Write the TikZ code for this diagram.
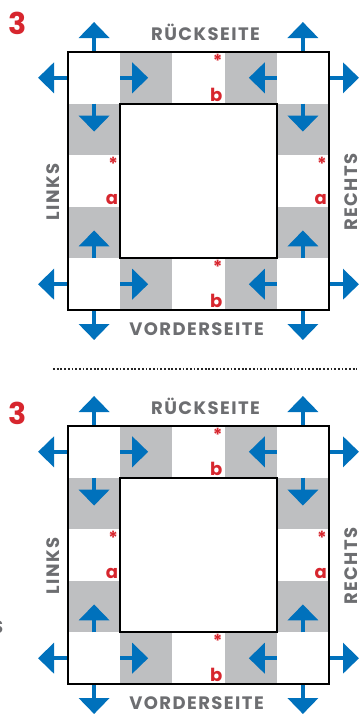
\documentclass[tikz,border=0pt]{standalone}
\usepackage{fontspec}
\setmainfont{Poppins}
\usetikzlibrary{arrows.meta, positioning}

\definecolor{pfeilblau}{HTML}{0071BC}
\definecolor{feldgrau}{HTML}{BEBFC1}
\definecolor{textgrau}{HTML}{6D6E71}
\definecolor{markrot}{HTML}{D7262E}

\begin{document}
\begin{tikzpicture}[
    x=1pt, y=-1pt,
    cell/.style={rectangle, minimum width=52.2pt, minimum height=51.6pt, inner sep=0pt, outer sep=0pt},
    frame/.style={draw=black, line width=2pt},
    pfeil/.style={draw=pfeilblau, line width=4.5pt, -{Triangle[width=30pt, length=16pt]}},
    seite/.style={font=\bfseries\fontsize{18}{18}\selectfont\addfontfeature{LetterSpace=8}, text=textgrau, inner sep=0pt},
    merk/.style={font=\bfseries\fontsize{18}{18}\selectfont, text=markrot, inner sep=2pt},
    nummer/.style={font=\bfseries\fontsize{30}{30}\selectfont, text=markrot, inner sep=0pt}
]
    \useasboundingbox (0,0) rectangle (360,716);

    % Nummern
    \node[nummer] (nr-oben) at (18,23.5) {3};
    \node[nummer] (nr-unten) at (18,413) {3};

    % Trennlinie
    \coordinate (trenn-a) at (53,369);
    \coordinate (trenn-b) at (357,369);
    \draw[line width=1.8pt, draw=black!85, dash pattern=on 1.8pt off 1.9pt] (trenn-a) -- (trenn-b);

    % Rest vom Nachbartext
    \node[seite, anchor=east] (rest) at (3.5,627) {S};

    \foreach \dy in {0,374} {
    \begin{scope}[shift={(0,\dy)}]
        % Felder
        \foreach \i in {1,...,5}
            \foreach \j in {1,...,5}
                \node[cell] (c-\i-\j) at ({68+(\j-0.5)*52.2},{52+(\i-0.5)*51.6}) {};
        \foreach \i/\j in {1/2,1/4,2/1,2/5,4/1,4/5,5/2,5/4}
            \fill[feldgrau] (c-\i-\j.north west) rectangle (c-\i-\j.south east);

        % Markierungen
        \foreach \i/\j/\buchst in {1/3/b,5/3/b,3/1/a,3/5/a} {
            \node[merk, anchor=north east] (stern-\i-\j) at (c-\i-\j.north east) {*};
            \node[merk, anchor=south east] (buchst-\i-\j) at (c-\i-\j.south east) {\buchst};
        }

        % Pfeile innen
        \draw[pfeil] (c-1-2.west) -- ([xshift=28pt]c-1-2.west);
        \draw[pfeil] (c-1-4.east) -- ([xshift=-28pt]c-1-4.east);
        \draw[pfeil] (c-5-2.west) -- ([xshift=28pt]c-5-2.west);
        \draw[pfeil] (c-5-4.east) -- ([xshift=-28pt]c-5-4.east);
        \draw[pfeil] (c-2-1.north) -- ([yshift=-28pt]c-2-1.north);
        \draw[pfeil] (c-2-5.north) -- ([yshift=-28pt]c-2-5.north);
        \draw[pfeil] (c-4-1.south) -- ([yshift=28pt]c-4-1.south);
        \draw[pfeil] (c-4-5.south) -- ([yshift=28pt]c-4-5.south);

        % Pfeile aussen
        \draw[pfeil] (c-1-1.north) -- ([yshift=30pt]c-1-1.north);
        \draw[pfeil] (c-1-1.west) -- ([xshift=-30pt]c-1-1.west);
        \draw[pfeil] (c-1-5.north) -- ([yshift=30pt]c-1-5.north);
        \draw[pfeil] (c-1-5.east) -- ([xshift=30pt]c-1-5.east);
        \draw[pfeil] (c-5-1.west) -- ([xshift=-30pt]c-5-1.west);
        \draw[pfeil] (c-5-1.south) -- ([yshift=-30pt]c-5-1.south);
        \draw[pfeil] (c-5-5.east) -- ([xshift=30pt]c-5-5.east);
        \draw[pfeil] (c-5-5.south) -- ([yshift=-30pt]c-5-5.south);

        % Rahmen
        \draw[frame] (c-1-1.north west) rectangle (c-5-5.south east);
        \draw[frame] (c-2-2.north west) rectangle (c-4-4.south east);

        % Seiten
        \node[seite, above=11pt of c-1-3, xshift=7pt] (rueck) {RÜCKSEITE};
        \node[seite, below=12pt of c-5-3, xshift=-2pt] (vorder) {VORDERSEITE};
        \node[seite, rotate=90] (links) at (53,192) {LINKS};
        \node[seite, rotate=90] (rechts) at (351,192) {RECHTS};
    \end{scope}
    }
\end{tikzpicture}
\end{document}
